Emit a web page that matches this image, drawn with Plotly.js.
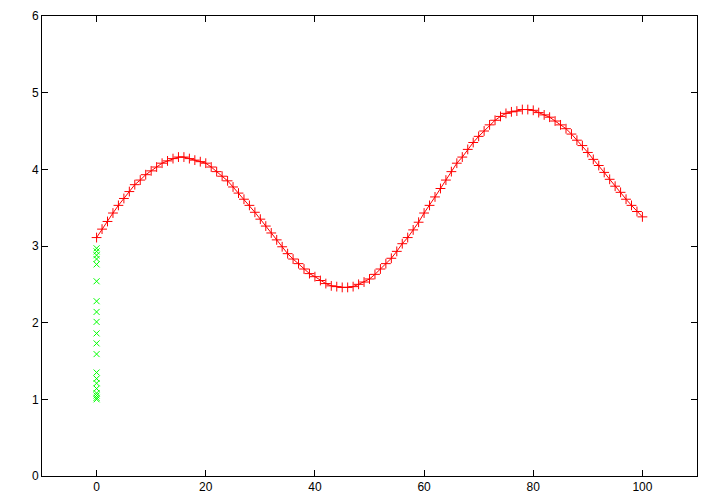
<!DOCTYPE html>
<html>
<head>
<meta charset="utf-8">
<script src="https://cdn.plot.ly/plotly-3.0.1.min.js"></script>
<style>html,body{margin:0;padding:0;background:#fff;}#chart{width:720px;height:504px;}</style>
</head>
<body>
<div id="chart"></div>
<script>
const curveY = [3.11,3.22,3.32,3.43,3.53,3.62,3.71,3.80,3.86,3.93,
  3.98,4.03,4.08,4.11,4.14,4.16,4.16,4.14,4.12,4.10,
  4.08,4.03,3.97,3.91,3.85,3.77,3.69,3.61,3.53,3.44,
  3.35,3.26,3.17,3.08,2.99,2.90,2.83,2.77,2.70,2.64,
  2.60,2.55,2.51,2.48,2.47,2.46,2.46,2.47,2.50,2.53,
  2.57,2.63,2.70,2.77,2.84,2.93,3.03,3.11,3.21,3.31,
  3.43,3.53,3.64,3.75,3.86,3.97,4.08,4.16,4.26,4.35,
  4.43,4.50,4.58,4.64,4.69,4.73,4.75,4.76,4.78,4.78,
  4.77,4.74,4.71,4.68,4.63,4.58,4.53,4.46,4.38,4.31,
  4.22,4.13,4.05,3.96,3.87,3.78,3.70,3.61,3.53,3.45,
  3.38];
const curveX = curveY.map((_, i) => i);
const pointsY = [1.00,1.02,1.05,1.08,1.14,1.21,1.27,1.35,1.59,1.73,1.86,2.01,2.14,2.28,2.54,2.76,2.83,2.88,2.93,2.97];
const pointsX = pointsY.map(() => 0);
const xTicks = [0,20,40,60,80,100];
const yTicks = [0,1,2,3,4,5,6];

const traces = [
  {x: curveX, y: curveY, type: 'scatter', mode: 'lines+markers',
   line: {color: '#ff0000', width: 1},
   marker: {symbol: 'cross-thin', size: 7, color: '#ff0000', line: {color: '#ff0000', width: 1}},
   showlegend: false, hoverinfo: 'skip'},
  {x: pointsX, y: pointsY, type: 'scatter', mode: 'markers',
   marker: {symbol: 'x-thin', size: 6, color: '#00ff00', line: {color: '#00ff00', width: 1}},
   showlegend: false, hoverinfo: 'skip'}
];
const axisCommon = {
  showline: true, linecolor: '#000', linewidth: 1, mirror: 'allticks',
  ticks: 'inside', ticklen: 6, tickcolor: '#000', tickwidth: 1,
  showgrid: false, zeroline: false,
  tickfont: {family: 'Liberation Sans, Arial, sans-serif', size: 12, color: '#000'}
};
const layout = {
  width: 720, height: 504,
  margin: {l: 42, r: 23, t: 16, b: 28},
  paper_bgcolor: '#fff', plot_bgcolor: '#fff',
  xaxis: Object.assign({}, axisCommon, {range: [-10, 110], tickvals: xTicks, ticktext: xTicks.map(String)}),
  yaxis: Object.assign({}, axisCommon, {range: [0, 6], tickvals: yTicks, ticktext: yTicks.map(String)})
};
Plotly.newPlot('chart', traces, layout, {displayModeBar: false, staticPlot: true});
</script>
</body>
</html>
